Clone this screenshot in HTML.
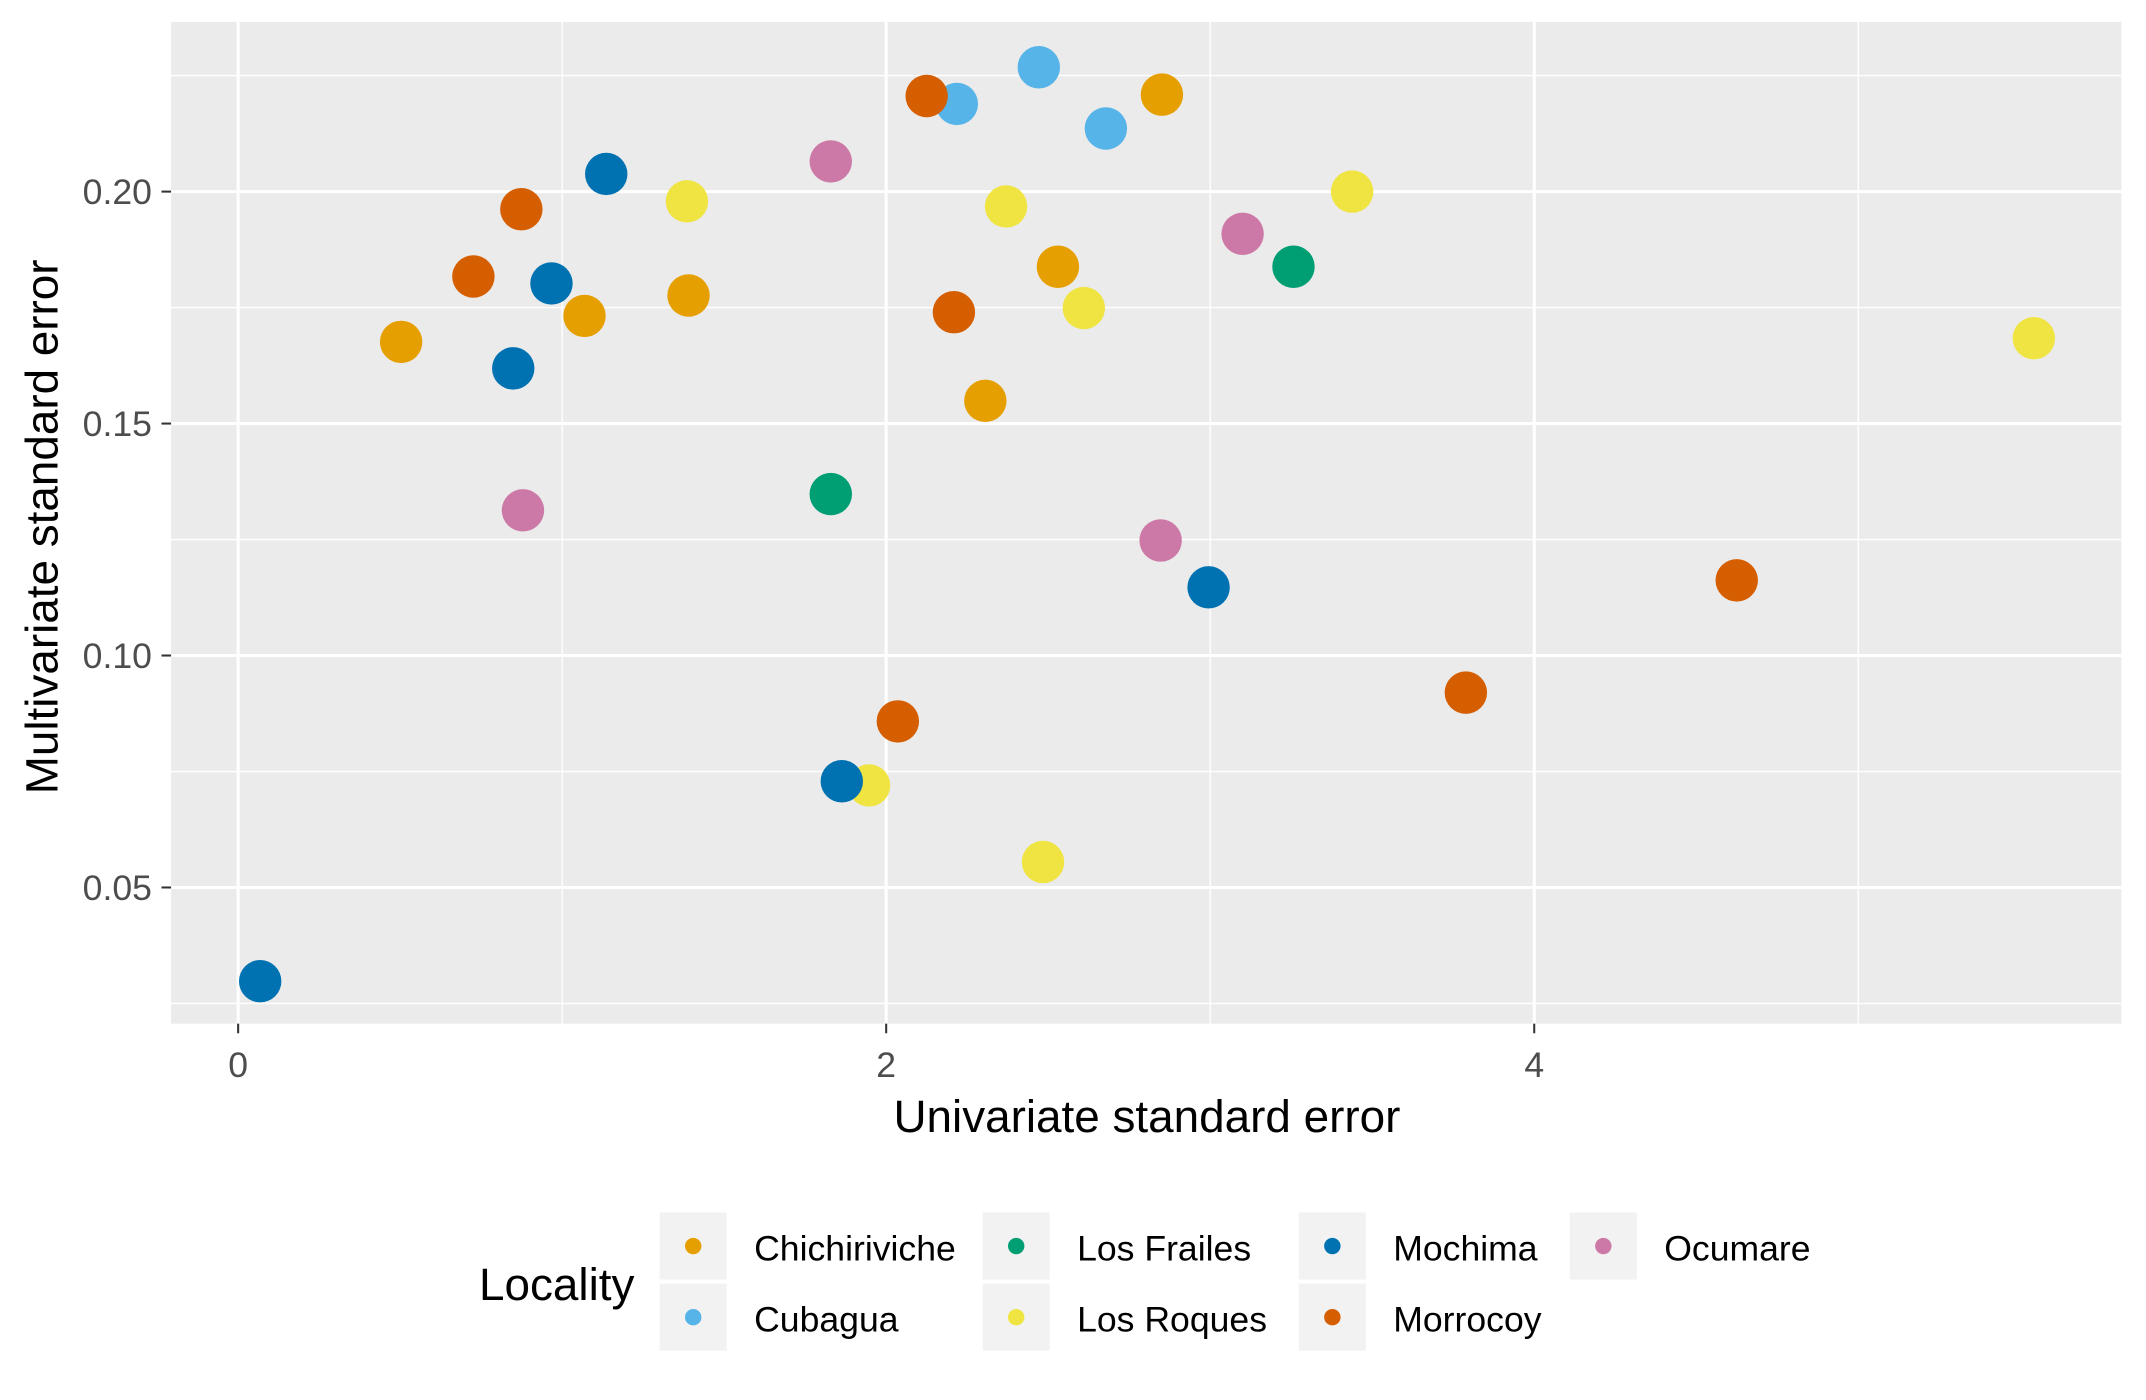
<!DOCTYPE html>
<html><head><meta charset="utf-8"><style>
html,body{margin:0;padding:0;background:#fff;}
svg{display:block;font-family:"Liberation Sans",Arial,sans-serif;}
</style></head><body>
<svg id="chart" width="2146" height="1400" viewBox="0 0 1568 1023" preserveAspectRatio="none" xmlns="http://www.w3.org/2000/svg">
<rect x="0" y="0" width="1568" height="1023" fill="#fff"/>
<rect x="125" y="16" width="1425" height="732" fill="#ebebeb"/>
<g id="grid"></g>
<g id="points"></g>
<g id="axes"></g>
<text x="838" y="827" font-size="33.5" text-anchor="middle" fill="#000">Univariate standard error</text>
<text transform="translate(42,385) rotate(-90)" font-size="33.5" text-anchor="middle" fill="#000">Multivariate standard error</text>
<text x="350" y="950" font-size="33.5" fill="#000">Locality</text>
<g id="legend"></g>
</svg>
<script>
const categories = ["Chichiriviche","Cubagua","Los Frailes","Los Roques","Mochima","Morrocoy","Ocumare"];
const colors = ["#E69F00","#56B4E9","#009E73","#F0E442","#0072B2","#D55E00","#CC79A7"];
const xChichiriviche=[0.503,1.069,1.390,2.306,2.530,2.851];
const yChichiriviche=[0.1676,0.1732,0.1776,0.1549,0.1838,0.2209];
const xCubagua=[2.218,2.471,2.678];
const yCubagua=[0.2189,0.2268,0.2136];
const xLosFrailes=[1.829,3.257];
const yLosFrailes=[0.1348,0.1838];
const xLosRoques=[1.385,2.370,2.610,3.438,5.542,1.947,2.484];
const yLosRoques=[0.1979,0.1968,0.1749,0.2000,0.1684,0.0720,0.0555];
const xMochima=[1.136,0.967,0.849,2.995,1.863,0.068];
const yMochima=[0.2038,0.1802,0.1619,0.1147,0.0729,0.0298];
const xMorrocoy=[0.874,0.726,2.125,2.209,2.036,3.789,4.625];
const yMorrocoy=[0.1962,0.1817,0.2206,0.1740,0.0858,0.0920,0.1162];
const xOcumare=[1.829,0.879,3.100,2.847];
const yOcumare=[0.2065,0.1313,0.1909,0.1248];
const xTicks=[0,2,4];
const xMinor=[1,3,5];
const yTicks=[0.05,0.10,0.15,0.20];
const yTickLabels=["0.05","0.10","0.15","0.20"];
const yMinor=[0.025,0.075,0.125,0.175,0.225];

const NS="http://www.w3.org/2000/svg";
const sx=v=>174+v*236.75;
const sy=v=>140-(v-0.20)*3390;
function mk(t,a,p){const e=document.createElementNS(NS,t);for(const k in a)e.setAttribute(k,a[k]);p.appendChild(e);return e;}
const grid=document.getElementById('grid'),pts=document.getElementById('points'),axes=document.getElementById('axes'),leg=document.getElementById('legend');
xMinor.forEach(v=>{const l=mk('line',{x1:sx(v),x2:sx(v),y1:16,y2:748,stroke:'#fff','stroke-width':1},grid);

});
yMinor.forEach(v=>{const l=mk('line',{x1:125,x2:1550,y1:sy(v),y2:sy(v),stroke:'#fff','stroke-width':1},grid);

});
xTicks.forEach(v=>{const l=mk('line',{x1:sx(v),x2:sx(v),y1:16,y2:748,stroke:'#fff','stroke-width':2.2},grid);


const t=mk('line',{x1:sx(v),x2:sx(v),y1:748,y2:755,stroke:'#333','stroke-width':1.5},axes);


const tx=mk('text',{x:sx(v),y:787,'font-size':26,'text-anchor':'middle',fill:'#4d4d4d'},axes);tx.textContent=String(v);

});
yTicks.forEach((v,i)=>{const l=mk('line',{x1:125,x2:1550,y1:sy(v),y2:sy(v),stroke:'#fff','stroke-width':2.2},grid);


const t=mk('line',{x1:118,x2:125,y1:sy(v),y2:sy(v),stroke:'#333','stroke-width':1.5},axes);


const tx=mk('text',{x:111,y:sy(v)+9,'font-size':26,'text-anchor':'end',fill:'#4d4d4d'},axes);tx.textContent=yTickLabels[i];

});
const series=[[xChichiriviche,yChichiriviche],[xCubagua,yCubagua],[xLosFrailes,yLosFrailes],[xLosRoques,yLosRoques],[xMochima,yMochima],[xMorrocoy,yMorrocoy],[xOcumare,yOcumare]];
series.forEach((s,ci)=>{s[0].forEach((xv,i)=>{const c=mk('circle',{cx:sx(xv),cy:sy(s[1][i]),r:15.5,fill:colors[ci]},pts);

});});
const lx=[482,718,949,1147];
categories.forEach((c,i)=>{const col=Math.floor(i/2),row=i%2;const x=lx[col],y=886+row*52;
const k=mk('rect',{x:x,y:y,width:49,height:49,fill:'#f2f2f2'},leg);


const d=mk('circle',{cx:x+24.5,cy:y+24.5,r:6,fill:colors[i]},leg);


const t=mk('text',{x:x+69,y:y+35,'font-size':26,fill:'#000'},leg);t.textContent=c;

});
</script>
</body></html>
